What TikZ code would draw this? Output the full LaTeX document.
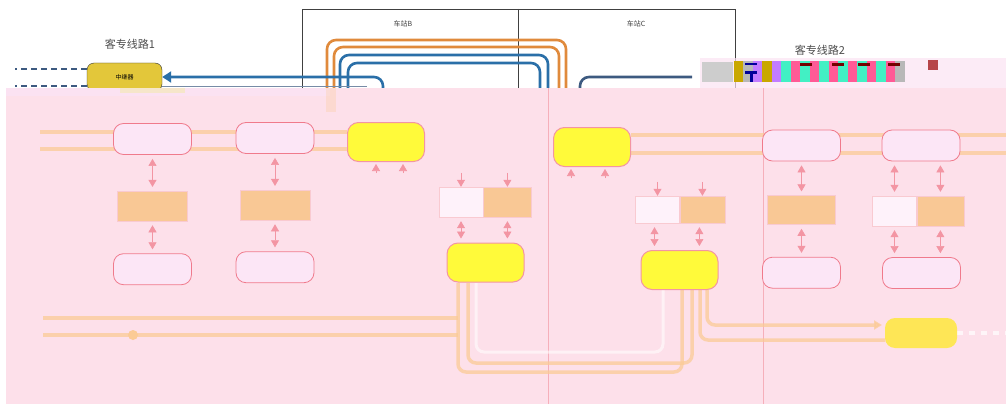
\documentclass[tikz,border=0pt]{standalone}
\usepackage{fontspec}
\newfontfamily\cjk{Noto Sans CJK SC}
\usetikzlibrary{positioning}
\usetikzlibrary{arrows.meta}
\definecolor{wash}{HTML}{FDE0EA}
\definecolor{washtop}{HTML}{FBE2F2}
\definecolor{pinkline}{HTML}{F07A8C}
\definecolor{palefill}{HTML}{FCE6F6}
\definecolor{fadeorange}{HTML}{F9C895}
\definecolor{fadeline}{HTML}{FBCB96}
\definecolor{brightyellow}{HTML}{FFFA3A}
\definecolor{relayyellow}{HTML}{E3C73A}
\definecolor{trackorange}{HTML}{E08A3C}
\definecolor{trackblue}{HTML}{2A6FA8}
\definecolor{trackgrey}{HTML}{3D5A80}
\definecolor{gA}{HTML}{C9A800}
\definecolor{gB}{HTML}{C27CFF}
\definecolor{gC}{HTML}{42F0C4}
\definecolor{gD}{HTML}{FF5A96}
\definecolor{gE}{HTML}{B8B8B8}
\begin{document}
\begin{tikzpicture}[x=1pt,y=-1pt]
  \tikzstyle{relay}=[draw=black!80,fill=relayyellow,rounded corners=7pt,minimum width=75pt,minimum height=28pt,font=\cjk\fontsize{6}{6}\selectfont]
  \tikzstyle{rbox}=[draw=pinkline,fill=palefill,rounded corners=10pt,minimum width=78pt,minimum height=31pt,line width=0.8pt]
  \tikzstyle{ybox}=[draw=pinkline!80,fill=brightyellow,rounded corners=11pt,minimum width=77pt,minimum height=39pt,line width=1pt]
  \tikzstyle{obox}=[draw=pinkline!40,fill=fadeorange,minimum width=70pt,minimum height=30pt,line width=0.4pt]
  \tikzstyle{wbox}=[draw=pinkline!40,fill=palefill!50,minimum width=44pt,minimum height=30pt,line width=0.4pt]
  \tikzstyle{darrow}=[draw=pinkline!80,line width=0.6pt,shorten >=4pt,shorten <=4pt,{Triangle[length=7pt,width=8pt]}-{Triangle[length=7pt,width=8pt]}]
  \tikzstyle{sarrow}=[draw=pinkline!80,line width=0.6pt,-{Triangle[length=7pt,width=8pt]}]
  \tikzstyle{track}=[line width=2.6pt,rounded corners=9pt]
  \tikzstyle{fade}=[draw=fadeline,line width=3.5pt,opacity=0.75]
  \tikzstyle{label}=[font=\cjk\fontsize{11}{11}\selectfont,text=black!70]
  \tikzstyle{stn}=[font=\cjk\fontsize{7}{7}\selectfont,text=black!75]

  \useasboundingbox (0,0) rectangle (1006,404);

  % stations and lines above the wash
  \draw[black!75,line width=0.9pt] (302,96) |- (735,9) -- (735,96);
  \draw[black!75,line width=0.9pt] (518,9) -- (518,96);
  \node[stn] (stnB) at (403,24) {车站B};
  \node[stn] (stnC) at (636,24) {车站C};
  \node[label] (line1) at (130,44) {客专线路1};
  \node[label] (line2) at (820,50) {客专线路2};

  \draw[trackorange,track] (327,96) |- (566,40) -- (566,96);
  \draw[trackorange,track] (334,96) |- (559,47) -- (559,96);
  \draw[trackblue,track] (340,96) |- (548,55) -- (548,96);
  \draw[trackblue,track] (348,96) |- (540,63) -- (540,96);

  \node[relay] (rep) at (124.5,77) {中继器};
  \draw[trackgrey,line width=2pt,dashed,dash pattern=on 6pt off 4pt] (rep.west|-0,69) -- (15,69);
  \draw[trackgrey,line width=2pt,dashed,dash pattern=on 6pt off 4pt] (rep.west|-0,86) -- (15,86);
  \coordinate (bin) at (383,96);
  \draw[trackblue,track,-{Triangle[length=9pt,width=11pt]}] (bin) |- (rep.east);
  \draw[trackgrey!70,line width=1.2pt] (rep.east|-0,86.5) -- (367,86.5);
  \coordinate (cin) at (580,96);
  \coordinate (cout) at (692,77);
  \draw[trackgrey,track] (cin) |- (cout);

  % damaged strip
  \fill[washtop,opacity=0.7] (700,58) rectangle (1006,88);
  \fill[gE!70] (702,62) rectangle (733,82);
  \foreach \c [count=\i] in {gA,gE,gB,gA,gB,gC,gD,gC,gD,gC,gD,gC,gD,gC,gD,gC,gD,gE}
    \fill[\c] ({724+9.5*\i},61) rectangle +(9.5,21);
  \foreach \x in {800,832,858,888}
    \fill[red!45!black] (\x,63) rectangle +(12,3);
  \fill[blue!60!black] (745,63) rectangle +(12,2.5);
  \fill[blue!60!black] (745,71) rectangle +(12,2.5);
  \fill[blue!60!black] (750,71) rectangle +(2.5,11);
  \fill[red!60!black,opacity=0.7] (928,60) rectangle +(10,10);

  % wash over the lower part
  \fill[wash] (6,88) rectangle (1006,404);
  \fill[washtop] (6,88) rectangle (330,96);
  \fill[relayyellow!40,opacity=0.6] (120,88) rectangle (185,93);
  \fill[fadeline,opacity=0.3] (326,88) rectangle (336,112);
  \draw[pinkline!60,line width=0.6pt] (548,88) -- (548,404);
  \draw[pinkline!60,line width=0.6pt] (763,88) -- (763,404);

  % faded connections
  \draw[fade] (40,132) -- (347,132);
  \draw[fade] (40,149) -- (347,149);
  \draw[fade] (631,135) -- (1006,135);
  \draw[fade] (631,153) -- (1006,153);
  \draw[fade,rounded corners=8pt] (43,318) -- (458,318);
  \draw[fade,rounded corners=8pt] (43,335) -- (458,335);
  \fill[fadeline] (133,335) circle (5pt);
  \draw[fade,rounded corners=8pt] (458,283) |- (682,372) -- (682,290);
  \draw[fade,rounded corners=8pt] (468,283) |- (692,363) -- (692,290);
  \draw[white,opacity=0.55,line width=3pt,rounded corners=8pt] (476,283) |- (663,352) -- (663,290);
  \draw[fade,rounded corners=8pt,-{Triangle[length=8pt,width=9pt]}] (707,290) |- (882,325);
  \draw[fade,rounded corners=8pt] (700,290) |- (885,340);
  \draw[white,opacity=0.7,line width=4pt,dash pattern=on 6pt off 6pt] (957,333) -- (1006,333);

  % left lines
  \node[rbox] (l1t) at (152.5,139) {};
  \node[obox,below=36pt of l1t] (l1m) {};
  \node[rbox,below=32pt of l1m] (l1b) {};
  \node[rbox] (l2t) at (275,138) {};
  \node[obox,below=36pt of l2t] (l2m) {};
  \node[rbox,below=31pt of l2m] (l2b) {};
  \draw[darrow] (l1t) -- (l1m);
  \draw[darrow] (l1m) -- (l1b);
  \draw[darrow] (l2t) -- (l2m);
  \draw[darrow] (l2m) -- (l2b);

  % station B
  \node[ybox] (b1) at (386,142) {};
  \node[wbox] (bw) at (461,202) {};
  \node[obox,minimum width=48pt,right=0pt of bw] (bo) {};
  \node[ybox] (b2) at (485.5,262.5) {};
  \draw[sarrow] ([xshift=-10pt,yshift=-11pt]b1.south) -- ([xshift=-10pt,yshift=-2pt]b1.south);
  \draw[sarrow] ([xshift=17pt,yshift=-11pt]b1.south) -- ([xshift=17pt,yshift=-2pt]b1.south);
  \draw[sarrow] ([yshift=14pt]bw.north) -- (bw.north);
  \draw[sarrow] ([yshift=14pt]bo.north) -- (bo.north);
  \draw[darrow] (bw.south) -- (bw.south|-b2.north);
  \draw[darrow] (bo.south) -- (bo.south|-b2.north);

  % station C
  \node[ybox] (c1) at (592,147) {};
  \node[wbox,minimum height=27pt] (cw) at (657.5,209.5) {};
  \node[obox,minimum width=45pt,minimum height=27pt,right=0pt of cw] (co) {};
  \node[ybox] (c2) at (679.5,270) {};
  \draw[sarrow] ([xshift=-21pt,yshift=-11pt]c1.south) -- ([xshift=-21pt,yshift=-2pt]c1.south);
  \draw[sarrow] ([xshift=13pt,yshift=-11pt]c1.south) -- ([xshift=13pt,yshift=-2pt]c1.south);
  \draw[sarrow] ([yshift=14pt]cw.north) -- (cw.north);
  \draw[sarrow] ([yshift=14pt]co.north) -- (co.north);
  \draw[darrow] ([xshift=-3pt]cw.south) -- ([xshift=-3pt]cw.south|-c2.north);
  \draw[darrow] ([xshift=-3pt]co.south) -- ([xshift=-3pt]co.south|-c2.north);

  % right lines
  \node[rbox] (r1t) at (801.5,145.5) {};
  \node[obox,minimum width=68pt,minimum height=29pt,below=34pt of r1t] (r1m) {};
  \node[rbox,below=32pt of r1m] (r1b) {};
  \node[rbox] (r2t) at (921,145.5) {};
  \node[wbox] (r2w) at (894.5,211) {};
  \node[obox,minimum width=47pt,right=0pt of r2w] (r2o) {};
  \node[rbox] (r2b) at (921.5,273) {};
  \draw[darrow] (r1t) -- (r1m);
  \draw[darrow] (r1m) -- (r1b);
  \draw[darrow] (r2w.north|-r2t.south) -- (r2w.north);
  \draw[darrow] (r2o.north|-r2t.south) -- (r2o.north);
  \draw[darrow] (r2w.south) -- (r2w.south|-r2b.north);
  \draw[darrow] (r2o.south) -- (r2o.south|-r2b.north);
  \node[fill=brightyellow!85!orange,opacity=0.8,rounded corners=10pt,minimum width=72pt,minimum height=30pt] (ybot) at (921,333) {};
\end{tikzpicture}
\end{document}
